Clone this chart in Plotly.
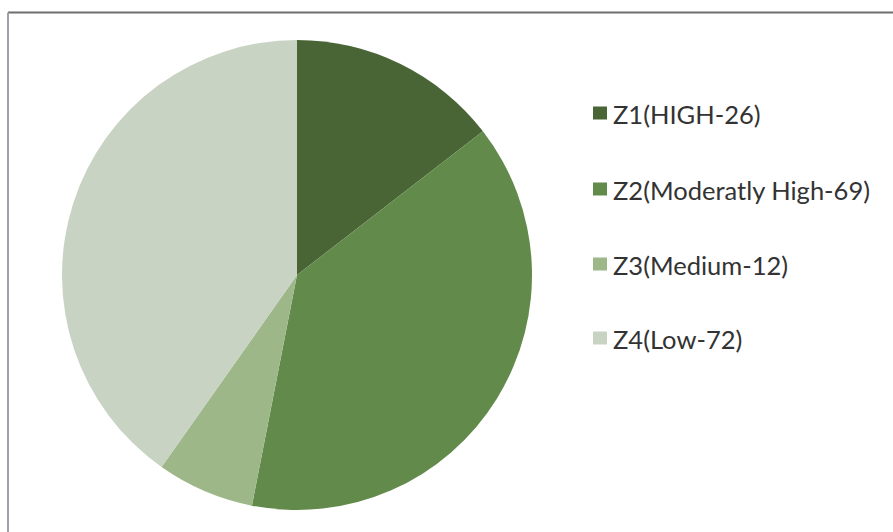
import plotly.graph_objects as go

labels = ["Z1(HIGH-26)", "Z2(Moderatly High-69)", "Z3(Medium-12)", "Z4(Low-72)"]
values = [26, 69, 12, 72]
colors = ["#4a6535", "#618a4b", "#9db789", "#c8d3c4"]

W, H = 893, 532
cx, cy, r = 297, 275, 235

fig = go.Figure(go.Pie(
    labels=labels, values=values, sort=False, direction="clockwise", rotation=0,
    marker=dict(colors=colors, line=dict(width=0)),
    textinfo="none", hoverinfo="label+value+percent", showlegend=False,
    domain=dict(x=[(cx - r) / W, (cx + r) / W], y=[(H - cy - r) / H, (H - cy + r) / H]),
))

shapes = [
    dict(type="line", xref="paper", yref="paper", x0=8 / W, x1=1, y0=1 - 12.5 / H, y1=1 - 12.5 / H,
         line=dict(color="#6f6f6f", width=2)),
    dict(type="line", xref="paper", yref="paper", x0=8 / W, x1=8 / W, y0=0, y1=1 - 12.5 / H,
         line=dict(color="#a0a0a8", width=2)),
]
annotations = []
leg_y = [113, 189, 264, 338]
for lab, col, yc in zip(labels, colors, leg_y):
    shapes.append(dict(type="rect", xref="paper", yref="paper",
                       x0=593 / W, x1=607 / W, y0=1 - (yc + 6.5) / H, y1=1 - (yc - 6.5) / H,
                       fillcolor=col, line=dict(width=0)))
    annotations.append(dict(xref="paper", yref="paper", x=611 / W, y=1 - (yc + 1) / H,
                            xanchor="left", yanchor="middle", text=lab, showarrow=False,
                            font=dict(family="Lato, sans-serif", size=25.5, color="#333333")))

fig.update_layout(width=W, height=H, margin=dict(l=0, r=0, t=0, b=0),
                  paper_bgcolor="white", plot_bgcolor="white",
                  shapes=shapes, annotations=annotations)
fig.write_html("out.html", config={"displayModeBar": False},
               post_script="document.body.style.margin='0px';")
